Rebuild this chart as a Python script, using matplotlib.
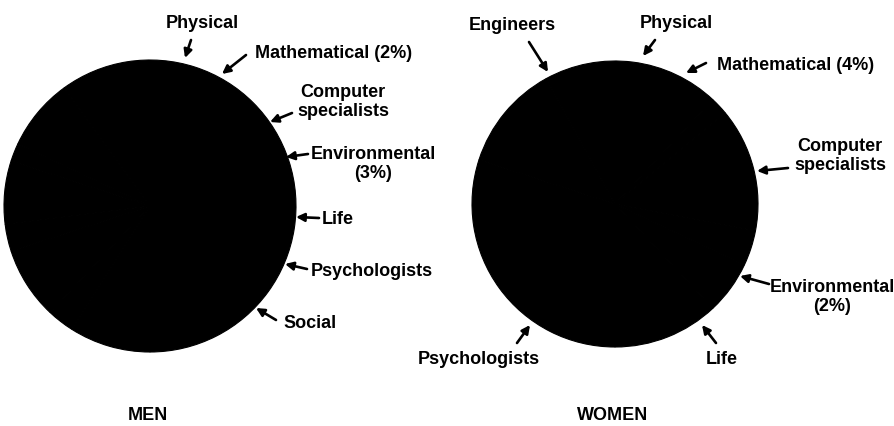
import matplotlib
matplotlib.use("Agg")
import matplotlib.pyplot as plt

# ---- data (shares of scientists and engineers, %) ----
fields = ["Engineers", "Physical", "Mathematical", "Computer specialists",
          "Environmental", "Life", "Psychologists", "Social"]
men_values = [60, 8, 2, 7, 3, 8, 3, 9]
women_values = [12, 6, 4, 14, 2, 20, 12, 30]

men_labels = ["Physical", "Mathematical (2%)", "Computer\nspecialists",
              "Environmental\n(3%)", "Life", "Psychologists", "Social"]
women_labels = ["Engineers", "Physical", "Mathematical (4%)", "Computer\nspecialists",
                "Environmental\n(2%)", "Life", "Psychologists"]
titles = ["MEN", "WOMEN"]

# ---- layout (pixel coordinates, y downwards) ----
W, H = 895, 426
men_center, men_radius = (150, 206), 146
women_center, women_radius = (615, 204), 143

men_text_pos = [(202, 23), (334, 53), (343, 102), (373, 164), (338, 220), (372, 271), (310, 323)]
men_tail = [(191, 40), (246, 55), (292, 113), (308, 154), (319, 218), (307, 269), (276, 320)]
men_tip = [(185, 58), (222, 74), (270, 122), (286, 157), (296, 217), (285, 264), (256, 308)]

women_text_pos = [(512, 25), (676, 24), (796, 65), (840, 156), (832, 297), (722, 359), (479, 360)]
women_tail = [(529, 42), (655, 40), (706, 63), (788, 168), (769, 284), (716, 343), (517, 343)]
women_tip = [(548, 72), (643, 56), (686, 73), (757, 171), (740, 276), (702, 325), (530, 325)]

title_pos = [(148, 415), (613, 415)]

font = dict(family=["Liberation Sans", "DejaVu Sans"], weight="bold", size=13)

fig = plt.figure(figsize=(W / 100, H / 100), dpi=100)
fig.patch.set_facecolor("white")
ax = fig.add_axes([0, 0, 1, 1])

for vals, c, r in [(men_values, men_center, men_radius),
                   (women_values, women_center, women_radius)]:
    ax.pie(vals, center=c, radius=r, colors=["black"] * len(vals),
           wedgeprops=dict(edgecolor="black", linewidth=0.8), startangle=90,
           counterclock=False)

for labels, tpos, tails, tips in [(men_labels, men_text_pos, men_tail, men_tip),
                                  (women_labels, women_text_pos, women_tail, women_tip)]:
    for lab, p, a, b in zip(labels, tpos, tails, tips):
        ax.text(p[0], p[1], lab, ha="center", va="center", linespacing=1.15, **font)
        ax.annotate("", xy=b, xytext=a,
                    arrowprops=dict(arrowstyle="-|>", color="black", lw=1.9,
                                    mutation_scale=12, shrinkA=0, shrinkB=0))

for t, p in zip(titles, title_pos):
    ax.text(p[0], p[1], t, ha="center", va="center", **font)

ax.set_xlim(0, W)
ax.set_ylim(H, 0)
ax.set_aspect("equal")
ax.axis("off")

fig.savefig("out.png", dpi=100, facecolor="white")
